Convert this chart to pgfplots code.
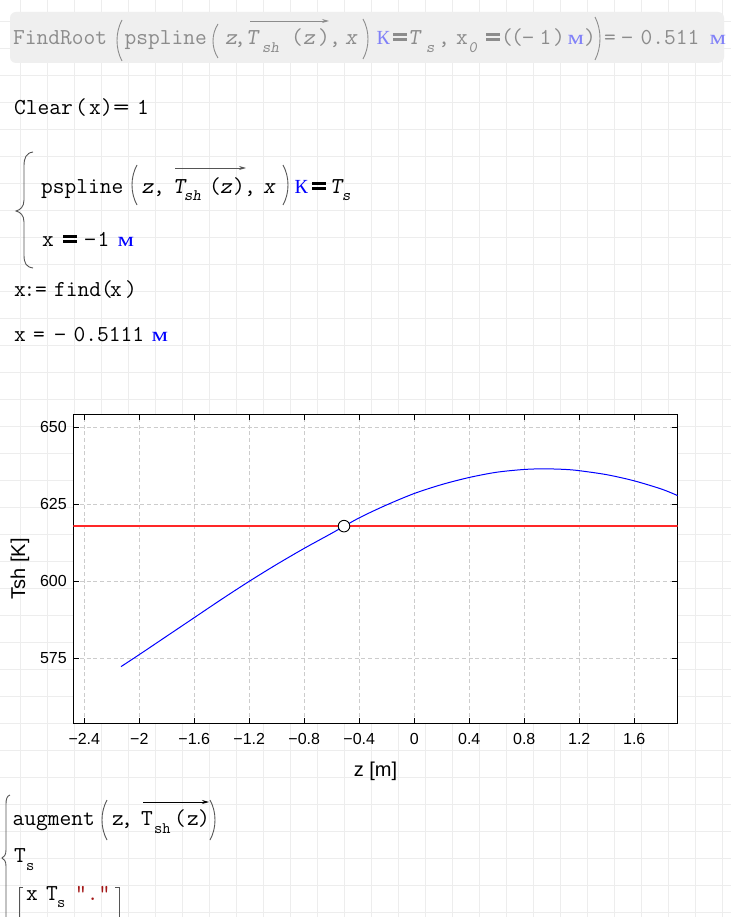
\documentclass[border=0pt]{standalone}
\usepackage{fontspec}
\usepackage{pgfplots}
\pgfplotsset{compat=1.18}
\usetikzlibrary{arrows.meta}
\newfontfamily\mono{Liberation Mono}
\newfontfamily\cyrserif{Liberation Serif}
\newfontfamily\sans{Liberation Sans}
\newcommand{\fmain}{\ttfamily\fontsize{22.8}{26}\selectfont}
\newcommand{\fcyr}{\cyrserif\fontsize{20}{24}\selectfont}
\newcommand{\fmin}{\mono\fontsize{20}{24}\selectfont}
\newcommand{\fsub}{\ttfamily\fontsize{16}{18}\selectfont}
\definecolor{sgray}{HTML}{8C8C8C}
\definecolor{sunitl}{HTML}{8080F8}
\definecolor{sunit}{HTML}{0000FF}
\definecolor{boxgray}{HTML}{EFEFEF}
\definecolor{bggrid}{HTML}{EDEDED}
\definecolor{strred}{HTML}{A31515}
\definecolor{brc}{HTML}{555555}
\newcommand{\tx}[4]{\node[anchor=base west,inner sep=0pt,text=#1,font=\fmain] at (#2pt,-#3pt) {#4};}
\newcommand{\ti}[4]{\node[anchor=base west,inner sep=0pt,text=#1,font=\fmain\slshape] at (#2pt,-#3pt) {#4};}
\newcommand{\tc}[4]{\node[anchor=base west,inner sep=0pt,text=#1,font=\fcyr] at (#2pt,-#3pt) {#4};}
\newcommand{\tmm}[3]{\node[anchor=base west,inner sep=0pt,text=#1,font=\fcyr] at (#2pt,-#3pt) {\scalebox{1.3}[1]{м}};}
\newcommand{\tm}[3]{\node[anchor=base west,inner sep=0pt,text=#1,font=\fmin] at (#2pt,-#3pt) {−};}
\newcommand{\ts}[4]{\node[anchor=base west,inner sep=0pt,text=#1,font=\fsub] at (#2pt,-#3pt) {#4};}
\newcommand{\tsi}[4]{\node[anchor=base west,inner sep=0pt,text=#1,font=\fsub\slshape] at (#2pt,-#3pt) {#4};}
% bold (boolean) equals: colour, x, baseline
\newcommand{\beq}[3]{\fill[#1] (#2,{-(#3-3.5)}) rectangle ({#2+14},{-(#3-6.5)}); \fill[#1] (#2,{-(#3-8.5)}) rectangle ({#2+14},{-(#3-11.5)});}
% tall parentheses: color, x of leftmost ink, ytop, ybot
\newcommand{\lp}[4]{\draw[#1,line width=0.9pt] ({#2+5},{-#3}) .. controls ({#2-1.67},{-(#3+0.3*(#4-#3))}) and ({#2-1.67},{-(#4-0.3*(#4-#3))}) .. ({#2+5},{-#4});}
\newcommand{\rp}[4]{\draw[#1,line width=0.9pt] ({#2},{-#3}) .. controls ({#2+6.67},{-(#3+0.3*(#4-#3))}) and ({#2+6.67},{-(#4-0.3*(#4-#3))}) .. ({#2},{-#4});}
\newcommand{\vecarrow}[4]{\draw[#1,line width=0.9pt,-{Stealth[length=7pt,width=4pt]}] (#2,-#4) -- (#3,-#4);}

\pgfplotstableread{
z T
-2.133 572.3
-2.0 576.2
-1.8 582.2
-1.6 588.2
-1.4 594.2
-1.2 600.0
-1.0 605.5
-0.8 610.7
-0.6 615.6
-0.4 620.6
-0.2 624.8
0.0 628.5
0.2 631.4
0.4 633.7
0.6 635.4
0.8 636.3
0.95 636.5
1.1 636.3
1.2 635.9
1.4 634.6
1.6 632.6
1.8 629.9
1.916 627.8
}\tshdata

\begin{document}
\begin{tikzpicture}[x=1pt,y=1pt]
\useasboundingbox (0,0) rectangle (731,-917);
\fill[white] (0,0) rectangle (731,-917);
% worksheet grid
\foreach \i in {0,...,26} {\draw[bggrid,line width=1.5pt] ({20.7+27*\i},0) -- ({20.7+27*\i},-917);}
\foreach \j in {0,...,33} {\draw[bggrid,line width=1.5pt] (0,{-21.7-27*\j}) -- (731,{-21.7-27*\j});}
% top grey region
\fill[boxgray,rounded corners=6pt] (10,-12) rectangle (724,-63);
% ---- FindRoot line ----
\tx{sgray}{13}{44.5}{FindRoot}
\lp{sgray}{117}{20}{61}
\tx{sgray}{124.5}{44.5}{pspline}
\lp{sgray}{213}{24}{58}
\ti{sgray}{225}{44.5}{z}
\tx{sgray}{234}{44.5}{,}
\ti{sgray}{246}{44.5}{T}
\tsi{sgray}{262}{53}{sh}
\tx{sgray}{291}{44.5}{(}
\ti{sgray}{303}{44.5}{z}
\tx{sgray}{318}{44.5}{)}
\vecarrow{sgray}{250}{329}{21}
\tx{sgray}{329}{44.5}{,}
\ti{sgray}{345}{44.5}{x}
\rp{sgray}{363}{19}{59}
\tc{sunitl}{376.5}{44.5}{К}
\beq{sgray}{393}{44.5}
\ti{sgray}{408}{44.5}{T}
\tsi{sgray}{426}{53}{s}
\tx{sgray}{438}{44.5}{,}
\tx{sgray}{456}{44.5}{x}
\tsi{sgray}{468.5}{53}{0}
\beq{sgray}{486}{44.5}
\tx{sgray}{501}{44.5}{(}
\tx{sgray}{511}{44.5}{(}
\tm{sgray}{522}{44.5}
\tx{sgray}{539.5}{44.5}{1}
\tx{sgray}{553}{44.5}{)}
\tmm{sunitl}{567.5}{44.5}
\tx{sgray}{584}{44.5}{)}
\rp{sgray}{595}{17}{60}
\tx{sgray}{604}{44.5}{=}
\tm{sgray}{621}{44.5}
\tx{sgray}{640.5}{44.5}{0.511}
\tmm{sunitl}{709.5}{44.5}
% ---- Clear(x)=1 ----
\tx{black}{14}{114.5}{Clear}
\tx{black}{75}{114.5}{(}
\tx{black}{89}{114.5}{x}
\tx{black}{101}{114.5}{)}
\node[anchor=base west,inner sep=0pt,font=\fmain] at (113pt,-114.5pt) {\scalebox{1.4}[1]{=}};
\tx{black}{137}{114.5}{1}
% ---- solve block ----
\draw[brc,line width=0.9pt] (33,-152) .. controls (26,-153) and (24,-158) .. (24,-166) -- (24,-200) .. controls (24,-207) and (20,-210) .. (16,-211) .. controls (20,-212) and (24,-215) .. (24,-222) -- (24,-255) .. controls (24,-263) and (26,-267) .. (33,-268);
\tx{black}{41}{193.3}{pspline}
\lp{brc}{132}{165}{205}
\ti{black}{141.5}{193.3}{z}
\tx{black}{153}{193.3}{,}
\ti{black}{173}{193.3}{T}
\tsi{black}{184}{201}{sh}
\tx{black}{209}{193.3}{(}
\ti{black}{220}{193.3}{z}
\tx{black}{233}{193.3}{)}
\vecarrow{brc}{175}{246}{168}
\tx{black}{244}{193.3}{,}
\ti{black}{263}{193.3}{x}
\rp{brc}{283}{165}{205}
\tc{sunit}{294.5}{193.3}{К}
\beq{black}{312}{193.3}
\ti{black}{330}{193.3}{T}
\tsi{black}{342}{201}{s}
\tx{black}{42}{246.7}{x}
\beq{black}{63}{246.7}
\tm{black}{84}{246.7}
\tx{black}{97.5}{246.7}{1}
\tmm{sunit}{117.5}{246.7}
% ---- x:=find(x) ----
\tx{black}{14}{296.7}{x}
\tx{black}{23.5}{296.7}{:}
\tx{black}{35}{296.7}{=}
\tx{black}{54}{296.7}{find}
\tx{black}{101}{296.7}{(}
\tx{black}{110}{296.7}{x}
\tx{black}{125}{296.7}{)}
% ---- x = -0.5111 m ----
\tx{black}{14}{341.7}{x}
\tx{black}{33}{341.7}{=}
\tm{black}{54}{341.7}
\tx{black}{73.5}{341.7}{0.5111}
\tmm{sunit}{151.5}{341.7}
% ---- bottom block ----
\draw[brc,line width=0.9pt] (10,-795) .. controls (7,-796) and (6,-799) .. (6,-804) -- (6,-850) .. controls (6,-855) and (4,-857) .. (2,-858) .. controls (4,-859) and (6,-861) .. (6,-866) -- (6,-917);
\tx{black}{12.5}{825}{augment}
\lp{brc}{102}{800}{840}
\tx{black}{112}{825}{z}
\tx{black}{121}{825}{,}
\tx{black}{141}{825}{T}
\ts{black}{154}{833}{sh}
\tx{black}{174}{825}{(}
\tx{black}{187}{825}{z}
\tx{black}{198}{825}{)}
\rp{brc}{210}{800}{840}
\vecarrow{black}{143}{209}{802}
\tx{black}{14}{862}{T}
\ts{black}{26}{870}{s}
\draw[brc,line width=0.9pt] (23,-887) -- (19,-887) -- (19,-917);
\draw[brc,line width=0.9pt] (115,-887) -- (119,-887) -- (119,-917);
\tx{black}{26}{900}{x}
\tx{black}{46}{900}{T}
\ts{black}{57}{907}{s}
\tx{strred}{75}{900}{"."}
% ---- chart ----
\begin{axis}[
  at={(73.3pt,-723.3pt)}, anchor=south west,
  scale only axis, width=604.4pt, height=309pt,
  xmin=-2.48, xmax=1.916, ymin=553.9, ymax=654.2,
  axis background/.style={fill=white},
  axis line style={line width=1.3pt},
  xtick={-2.4,-2,-1.6,-1.2,-0.8,-0.4,0,0.4,0.8,1.2,1.6},
  xticklabels={−2.4,−2,−1.6,−1.2,−0.8,−0.4,0,0.4,0.8,1.2,1.6},
  ytick={575,600,625,650},
  yticklabels={575,600,625,650},
  tick align=inside, major tick length=5.5pt,
  tick style={black,line width=1.2pt},
  grid=major,
  grid style={color={rgb,255:red,204;green,204;blue,204},line width=0.8pt,dash pattern=on 4pt off 2.7pt},
  xticklabel style={font=\sans\fontsize{16}{18}\selectfont,yshift=-6pt},
  yticklabel style={font=\sans\fontsize{16}{18}\selectfont,xshift=-3pt},
  xlabel={z [m]}, ylabel={Tsh [K]},
  xlabel style={font=\sans\fontsize{20}{22}\selectfont,at={(axis description cs:0.5,-0.1706)},anchor=base},
  ylabel style={font=\sans\fontsize{20}{22}\selectfont,at={(axis description cs:-0.0882,0.5)},anchor=center},
]
\addplot[color={rgb,255:red,255;green,40;blue,40},line width=1.6pt] coordinates {(-2.48,617.9) (1.916,617.9)};
\addplot[color=sunit,line width=1pt,smooth] table[x=z,y=T] {\tshdata};
\addplot[only marks,mark=*,mark size=5.8pt,mark options={fill=white,draw=black,line width=0.9pt}] coordinates {(-0.511,617.9)};
\end{axis}
\end{tikzpicture}
\end{document}
